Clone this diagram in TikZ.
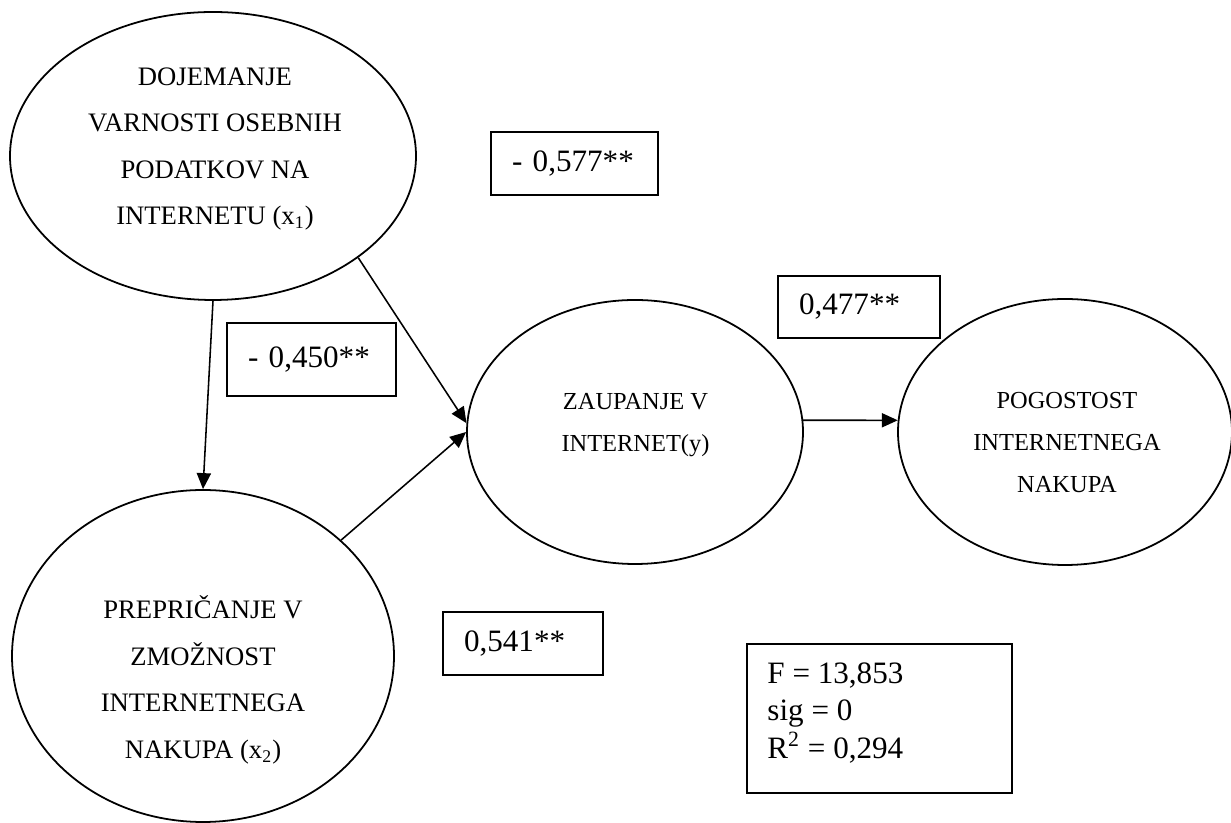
\documentclass[tikz,border=0pt]{standalone}
\usepackage{fontspec}
\setmainfont{Liberation Serif}
\usetikzlibrary{arrows.meta, shapes.geometric}

\begin{document}
\begin{tikzpicture}[x=0.45pt, y=-0.45pt,
  var/.style ={draw, ellipse, inner sep=0pt, line width=0.8pt},
  vtxt/.style={align=center, inner sep=0pt, font=\fontsize{12}{20.9}\selectfont},
  ytxt/.style={align=center, inner sep=0pt, font=\fontsize{11}{18.9}\selectfont},
  coef/.style={draw, rectangle, line width=0.8pt, align=left, inner xsep=9.45pt,
               inner ysep=0pt, font=\fontsize{14}{16.9}\selectfont},
  arr/.style ={-{Triangle[length=7.2pt, width=6.4pt]}, line width=0.7pt},
]
\useasboundingbox (0,0) rectangle (1231,823);

% variables
\node[var, minimum width=182.7pt, minimum height=129.6pt] (dojem)  at (213,156)  {};
\node[var, minimum width=171.9pt, minimum height=149.4pt] (prepric) at (203,656) {};
\node[var, minimum width=151.2pt, minimum height=118.8pt] (zaup)   at (635,432)  {};
\node[var, minimum width=150.3pt, minimum height=119.7pt] (pogost) at (1065,432) {};

\node[vtxt] (dojemT)  at (215,149)   {DOJEMANJE\\ VARNOSTI OSEBNIH\\ PODATKOV NA\\ INTERNETU (x\textsubscript{1})};
\node[vtxt] (prepricT) at (203,680)  {PREPRIČANJE V\\ ZMOŽNOST\\ INTERNETNEGA\\ NAKUPA (x\textsubscript{2})};
\node[ytxt] (zaupT)   at (635.5,425) {ZAUPANJE V\\ INTERNET(y)};
\node[ytxt] (pogostT) at (1067,443)  {POGOSTOST\\ INTERNETNEGA\\ NAKUPA};

% coefficients
\node[coef, text width=56.25pt, minimum height=28.35pt] (c577) at (574.5,163.5) {- 0,577**};
\node[coef, text width=57.15pt, minimum height=32.85pt] (c450) at (311.5,359.5) {- 0,450**};
\node[coef, text width=54pt,    minimum height=27.9pt]  (c477) at (859,307)     {0,477**};
\node[coef, text width=53.1pt,  minimum height=28.35pt] (c541) at (523,643.5)   {0,541**};

% model fit
\node[draw, rectangle, line width=0.8pt, minimum width=119.25pt, minimum height=67.05pt] (fit) at (879.5,718.5) {};
\node[anchor=north west, inner sep=0pt, align=left, font=\fontsize{14}{16.9}\selectfont] (fitT) at (767,662)
  {F = 13,853\\ sig = 0\\ R\textsuperscript{2} = 0,294};

% paths
\draw[arr] (dojem.south) -- (prepric.north);
\draw[arr] (dojem.-35)   -- (zaup.177);
\draw[arr] (prepric.40)  -- (zaup.west);
\draw[arr] (zaup.4)      -- (pogost.176);
\end{tikzpicture}
\end{document}
